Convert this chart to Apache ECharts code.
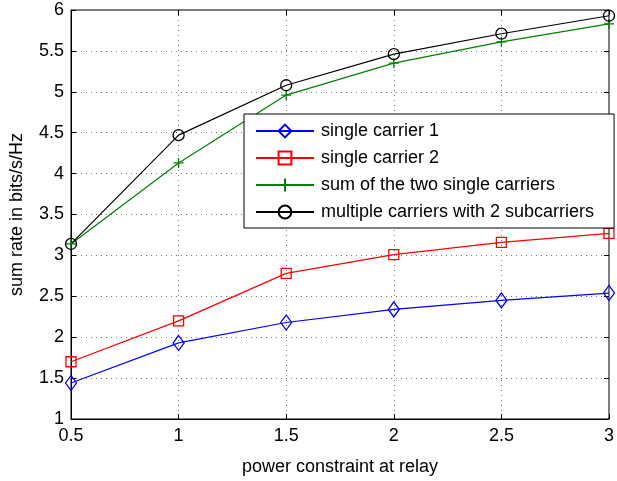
<!DOCTYPE html>
<html>
<head>
    <meta charset="UTF-8">
    <title>sum rate vs power constraint</title>
    <script src="https://cdn.jsdelivr.net/npm/echarts/dist/echarts.min.js"></script>
    <style>
        body { margin: 0; background: #fff; }
        #chart { width: 617px; height: 481px; }
    </style>
</head>
<body>
    <div id="chart"></div>
    <script>
        // data
        const powerValues = [0.5, 1, 1.5, 2, 2.5, 3];
        const singleCarrier1 = [1.44, 1.93, 2.18, 2.34, 2.45, 2.54];
        const singleCarrier2 = [1.70, 2.20, 2.78, 3.01, 3.16, 3.27];
        const sumOfSingles = [3.14, 4.13, 4.96, 5.35, 5.61, 5.83];
        const multiCarrier = [3.14, 4.47, 5.08, 5.46, 5.71, 5.93];

        const seriesNames = [
            'single carrier 1',
            'single carrier 2',
            'sum of the two single carriers',
            'multiple carriers with 2 subcarriers'
        ];

        const font = 'Liberation Sans, Arial, sans-serif';
        const plusPath = 'path://M0,-10L0,10M-10,0L10,0';

        const chart = echarts.init(document.getElementById('chart'));

        function pairs(ys) {
            return powerValues.map((x, i) => [x, ys[i]]);
        }

        function lineSeries(name, ys, color, symbol, size) {
            return {
                name: name,
                type: 'line',
                data: pairs(ys),
                color: color,
                symbol: symbol,
                symbolSize: size,
                showAllSymbol: true,
                lineStyle: { color: color, width: 1.2 },
                itemStyle: { color: 'transparent', borderColor: color, borderWidth: 1.3 },
                emphasis: { disabled: true },
                animation: false,
                z: 3
            };
        }

        const tickStyle = { inside: true, length: 5, lineStyle: { color: '#000' } };

        const option = {
            backgroundColor: '#fff',
            grid: {
                left: 70, right: 5, top: 10, bottom: 61,
                show: true, borderColor: '#000', borderWidth: 1
            },
            legend: {
                orient: 'vertical',
                left: 244, top: 114,
                padding: [8, 20, 7, 11],
                backgroundColor: '#fff',
                borderColor: '#000',
                borderWidth: 1,
                itemWidth: 58,
                itemHeight: 16,
                itemGap: 9,
                textStyle: { fontFamily: font, fontSize: 18, color: '#000', padding: [0, 0, 0, 2] },
                data: seriesNames
            },
            xAxis: [{
                type: 'value',
                min: 0.5, max: 3, interval: 0.5,
                name: 'power constraint at relay',
                nameLocation: 'middle',
                nameGap: 39,
                nameTextStyle: { fontFamily: font, fontSize: 18, color: '#000' },
                axisLine: { lineStyle: { color: '#000' } },
                axisTick: tickStyle,
                axisLabel: { fontFamily: font, fontSize: 18, color: '#000', margin: 8 },
                splitLine: { show: true, lineStyle: { color: '#777', type: [1, 4] } }
            }, {
                type: 'value', position: 'top',
                min: 0.5, max: 3, interval: 0.5,
                axisLine: { show: false }, axisTick: tickStyle,
                axisLabel: { show: false }, splitLine: { show: false }
            }],
            yAxis: [{
                type: 'value',
                min: 1, max: 6, interval: 0.5,
                name: 'sum rate in bits/s/Hz',
                nameLocation: 'middle',
                nameGap: 45,
                nameTextStyle: { fontFamily: font, fontSize: 18, color: '#000' },
                axisLine: { show: true, lineStyle: { color: '#000' } },
                axisTick: tickStyle,
                axisLabel: { fontFamily: font, fontSize: 18, color: '#000', margin: 7 },
                splitLine: { show: true, lineStyle: { color: '#777', type: [1, 4] } }
            }, {
                type: 'value', position: 'right',
                min: 1, max: 6, interval: 0.5,
                axisLine: { show: false }, axisTick: tickStyle,
                axisLabel: { show: false }, splitLine: { show: false }
            }],
            series: [
                lineSeries(seriesNames[0], singleCarrier1, '#0000ff', 'diamond', [11, 15]),
                lineSeries(seriesNames[1], singleCarrier2, '#ff0000', 'rect', 10),
                lineSeries(seriesNames[2], sumOfSingles, '#008000', plusPath, 10),
                lineSeries(seriesNames[3], multiCarrier, '#000000', 'circle', 11)
            ]
        };

        chart.setOption(option);
    </script>
</body>
</html>
